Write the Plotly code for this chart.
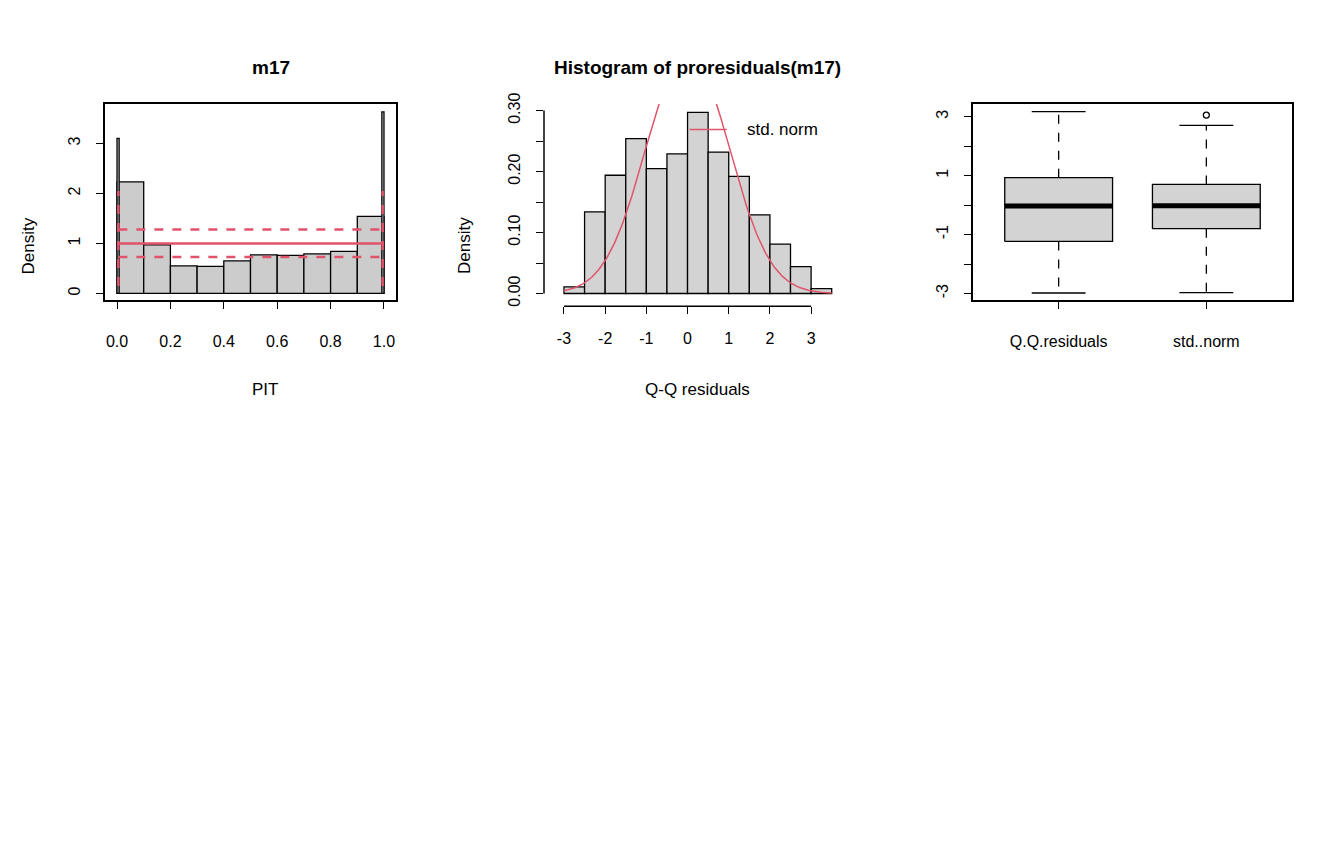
import numpy as np
import plotly.graph_objects as go

RED = "#DF536B"
GREY = "#D3D3D3"
FONT = "Liberation Sans"

# ---- data ----
pit_left = [0.0, 0.1, 0.2, 0.3, 0.4, 0.5, 0.6, 0.7, 0.8, 0.9]
pit_density = [2.23, 0.97, 0.55, 0.54, 0.65, 0.77, 0.76, 0.79, 0.84, 1.54]
pit_spike_x = [0.004, 0.996]
pit_spike_h = [3.10, 3.63]
pit_ref = 1.0
pit_band = [0.73, 1.28]
pit_vband = [0.15, 2.05]

qq_left = [-3.0, -2.5, -2.0, -1.5, -1.0, -0.5, 0.0, 0.5, 1.0, 1.5, 2.0, 2.5, 3.0]
qq_density = [0.011, 0.134, 0.194, 0.254, 0.205, 0.229, 0.297, 0.232, 0.192, 0.129, 0.081, 0.044, 0.008]

box_names = ["Q.Q.residuals", "std..norm"]
box_low = [-2.98, -2.97]
box_q1 = [-1.23, -0.80]
box_med = [-0.03, -0.02]
box_q3 = [0.93, 0.70]
box_high = [3.17, 2.70]
box_out_x = [2]
box_out_y = [3.05]

W, H = 1344, 864
DX, DY = -7, -17
def px(a, b): return [(a + DX) / W, (b + DX) / W]
def py(top, bot): return [1 - (bot + DY) / H, 1 - (top + DY) / H]

fig = go.Figure()

# ---- panel 1 ----
fig.add_trace(go.Bar(x=[v + 0.05 for v in pit_left], y=pit_density, width=0.1,
                     marker=dict(color="#CCCCCC", line=dict(color="black", width=1.3)),
                     xaxis="x", yaxis="y"))
fig.add_trace(go.Bar(x=pit_spike_x, y=pit_spike_h, width=0.008,
                     marker=dict(color="#CCCCCC", line=dict(color="black", width=1.3)),
                     xaxis="x", yaxis="y"))
fig.add_trace(go.Scatter(x=[0, 1], y=[pit_ref, pit_ref], mode="lines",
                         line=dict(color=RED, width=2.5), xaxis="x", yaxis="y"))
for b in pit_band:
    fig.add_trace(go.Scatter(x=[0.005, 0.995], y=[b, b], mode="lines",
                             line=dict(color=RED, width=2.5, dash="dash"), xaxis="x", yaxis="y"))
for xv in [0.005, 0.995]:
    fig.add_trace(go.Scatter(x=[xv, xv], y=pit_vband, mode="lines",
                             line=dict(color=RED, width=2.5, dash="dash"), xaxis="x", yaxis="y"))

# ---- panel 2 ----
fig.add_trace(go.Bar(x=[v + 0.25 for v in qq_left], y=qq_density, width=0.5,
                     marker=dict(color=GREY, line=dict(color="black", width=1.3)),
                     xaxis="x2", yaxis="y2"))
xs = np.linspace(-3, 3.5, 300)
fig.add_trace(go.Scatter(x=xs, y=np.exp(-xs**2 / 2) / np.sqrt(2 * np.pi), mode="lines",
                         line=dict(color=RED, width=1.5), xaxis="x2", yaxis="y2"))
fig.add_trace(go.Scatter(x=[0.05, 0.95], y=[0.269, 0.269], mode="lines",
                         line=dict(color=RED, width=1.5), xaxis="x2", yaxis="y2"))
fig.add_annotation(x=1.4, y=0.269, xref="x2", yref="y2", text="std. norm", showarrow=False,
                   xanchor="left", font=dict(size=17, color="black"))

# ---- panel 3 ----
hw = 0.365
for i in range(2):
    c = i + 1
    fig.add_trace(go.Scatter(x=[c - hw, c + hw, c + hw, c - hw, c - hw],
                             y=[box_q1[i], box_q1[i], box_q3[i], box_q3[i], box_q1[i]],
                             mode="lines", fill="toself", fillcolor=GREY,
                             line=dict(color="black", width=1.3), xaxis="x3", yaxis="y3"))
    fig.add_trace(go.Scatter(x=[c - hw, c + hw], y=[box_med[i]] * 2, mode="lines",
                             line=dict(color="black", width=5), xaxis="x3", yaxis="y3"))
    for a, b in [(box_q3[i], box_high[i]), (box_q1[i], box_low[i])]:
        fig.add_trace(go.Scatter(x=[c, c], y=[a, b], mode="lines",
                                 line=dict(color="black", width=1.3, dash="dash"), xaxis="x3", yaxis="y3"))
    for v in [box_low[i], box_high[i]]:
        fig.add_trace(go.Scatter(x=[c - hw / 2, c + hw / 2], y=[v, v], mode="lines",
                                 line=dict(color="black", width=1.3), xaxis="x3", yaxis="y3"))
fig.add_trace(go.Scatter(x=box_out_x, y=box_out_y, mode="markers",
                         marker=dict(symbol="circle-open", size=6, color="black", line=dict(width=1.3)),
                         xaxis="x3", yaxis="y3"))

ax = dict(showgrid=False, zeroline=False, ticks="outside", ticklen=7, tickwidth=1.3,
          tickcolor="black", tickfont=dict(size=16, color="black"))

fig.update_layout(
    width=W, height=H, showlegend=False, plot_bgcolor="white", paper_bgcolor="white",
    font=dict(family=FONT, color="black"), margin=dict(l=0, r=0, t=0, b=0), barmode="overlay",
    xaxis=dict(**ax, domain=px(104, 395), range=[-0.045, 1.045], tickvals=[0, 0.2, 0.4, 0.6, 0.8, 1.0],
               ticktext=["0.0", "0.2", "0.4", "0.6", "0.8", "1.0"], showline=True, linecolor="black",
               linewidth=1.5, mirror=True, anchor="y", ticklabelstandoff=19),
    yaxis=dict(**ax, domain=py(103, 302), range=[-0.138, 3.79], tickvals=[0, 1, 2, 3], tickangle=-90,
               showline=True, linecolor="black", linewidth=1.5, mirror=True, anchor="x", ticklabelstandoff=10),
    xaxis2=dict(**ax, domain=px(543, 841), range=[-3.485, 3.75], tickvals=[-3, -2, -1, 0, 1, 2, 3],
                ticktext=["-3", "-2", "-1", "0", "1", "2", "3"],
                anchor="y2", ticklabelstandoff=11, showline=False),
    yaxis2=dict(**ax, domain=py(103, 308), range=[-0.021, 0.311], tickvals=[0, 0.05, 0.1, 0.15, 0.2, 0.25, 0.3],
                ticktext=["0.00", "", "0.10", "", "0.20", "", "0.30"], tickangle=-90, anchor="x2",
                ticklabelstandoff=10, showline=False),
    xaxis3=dict(**ax, domain=px(972, 1291), range=[0.42, 2.58], tickvals=[1, 2], ticktext=box_names,
                showline=True, linecolor="black", linewidth=1.5, mirror=True, anchor="y3", ticklabelstandoff=19),
    yaxis3=dict(**ax, domain=py(103, 302), range=[-3.23, 3.43], tickvals=[-3, -2, -1, 0, 1, 2, 3],
                ticktext=["-3", "", "-1", "", "1", "", "3"], tickangle=-90, showline=True, linecolor="black",
                linewidth=1.5, mirror=True, anchor="x3", ticklabelstandoff=10),
)

fig.add_shape(type="line", xref="x2", yref="y2 domain", x0=-3, x1=3, y0=0, y1=0,
              line=dict(color="black", width=1.5))
fig.add_shape(type="line", xref="x2 domain", yref="y2", x0=0, x1=0, y0=0, y1=0.30,
              line=dict(color="black", width=1.5))

def ann(x, y, text, size=17, bold=False, angle=0):
    fig.add_annotation(x=(x + DX) / W, y=1 - (y + DY) / H, xref="paper", yref="paper", showarrow=False,
                       text=f"<b>{text}</b>" if bold else text, textangle=angle,
                       font=dict(size=size, color="black", family=FONT))

ann(249, 53, "m17", 19, True)
ann(697, 53, "Histogram of proresiduals(m17)", 19, True)
ann(249, 392, "PIT")
ann(697, 392, "Q-Q residuals")
ann(16, 216, "Density", angle=-90)
ann(464, 216, "Density", angle=-90)

fig.write_html("out.html")
